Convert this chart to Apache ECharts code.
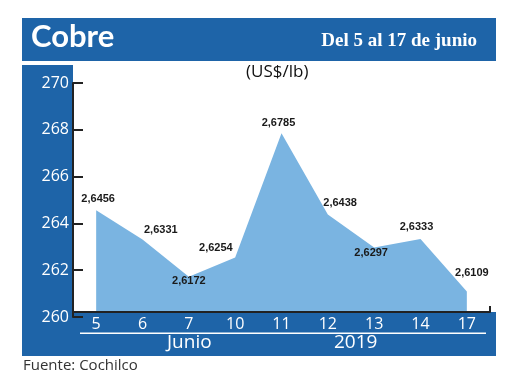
<!DOCTYPE html>
<html>
<head>
<meta charset="utf-8">
<script src="https://cdn.jsdelivr.net/npm/echarts@6/dist/echarts.min.js"></script>
<style>html,body{margin:0;padding:0;background:#fff}#c{width:520px;height:390px}</style>
</head>
<body>
<div id="c"></div>
<script>
var categories = ['5', '6', '7', '10', '11', '12', '13', '14', '17'];
var values = [264.56, 263.31, 261.72, 262.54, 267.85, 264.38, 262.97, 263.33, 261.09];
var valueLabels = ['2,6456', '2,6331', '2,6172', '2,6254', '2,6785', '2,6438', '2,6297', '2,6333', '2,6109'];
var yTicks = [260, 262, 264, 266, 268, 270];

var labelPlacement = [
  {position: 'top', offset: [2, 0]},
  {position: 'right', offset: [-4, -10]},
  {position: 'bottom', offset: [0, -7]},
  {position: 'left', offset: [3, -10]},
  {position: 'top', offset: [-3, 1]},
  {position: 'right', offset: [-10, -12]},
  {position: 'bottom', offset: [-3, -6]},
  {position: 'top', offset: [-4, -1]},
  {position: 'top', offset: [5, -8]}
];

var BLUE = '#1e64a8';
var AREA = '#7ab4e1';

var chart = echarts.init(document.getElementById('c'));
var data = values.map(function (v, i) {
  return {
    value: v,
    label: {
      show: true,
      position: labelPlacement[i].position,
      offset: labelPlacement[i].offset,
      formatter: valueLabels[i]
    }
  };
});

chart.setOption({
  animation: false,
  backgroundColor: '#ffffff',
  grid: {left: 73, right: 30, top: 83, bottom: 73, containLabel: false},
  graphic: [
    {type: 'rect', z: 5, shape: {x: 22, y: 18, width: 474, height: 43}, style: {fill: BLUE}},
    {type: 'rect', z: 5, shape: {x: 22, y: 65, width: 51, height: 291}, style: {fill: BLUE}},
    {type: 'rect', z: 5, shape: {x: 22, y: 312, width: 474, height: 44}, style: {fill: BLUE}},
    {type: 'rect', z: 6, shape: {x: 80, y: 332.5, width: 406, height: 1.5}, style: {fill: '#ffffff'}},
    {type: 'text', z: 6, left: 31, top: 21, style: {text: 'Cobre', fill: '#ffffff', font: 'bold 31px Lato, "Noto Sans", sans-serif'}},
    {type: 'text', z: 6, right: 43, top: 32, style: {text: 'Del 5 al 17 de junio', fill: '#ffffff', font: 'bold 19px "Liberation Serif", serif'}},
    {type: 'text', z: 6, left: 246, top: 64, style: {text: '(US$/lb)', fill: '#111111', font: '17px "Open Sans", sans-serif'}},
    {type: 'text', z: 6, left: 167, top: 333, style: {text: 'Junio', fill: '#ffffff', font: '19px "Open Sans", sans-serif'}},
    {type: 'text', z: 6, left: 334, top: 333, style: {text: '2019', fill: '#ffffff', font: '19px "Open Sans", sans-serif'}},
    {type: 'text', z: 6, left: 23, top: 358, style: {text: 'Fuente: Cochilco', fill: '#333333', font: '15px "Open Sans", sans-serif'}}
  ],
  xAxis: {
    type: 'category',
    data: categories,
    boundaryGap: true,
    offset: -5,
    z: 10,
    axisLine: {show: true, lineStyle: {color: '#222222', width: 2}},
    axisTick: {show: true, inside: true, length: 6, lineStyle: {color: '#222222', width: 2},
      interval: function (i) { return i === categories.length - 1; }},
    axisLabel: {color: '#ffffff', fontSize: 16, fontFamily: '"Open Sans", sans-serif', margin: 4},
    splitLine: {show: false}
  },
  yAxis: {
    type: 'value',
    min: yTicks[0],
    max: yTicks[yTicks.length - 1],
    interval: 2,
    z: 10,
    axisLine: {show: true, lineStyle: {color: '#222222', width: 2}},
    axisTick: {show: true, inside: true, length: 10, lineStyle: {color: '#222222', width: 2}},
    axisLabel: {color: '#ffffff', fontSize: 16, fontFamily: '"Open Sans", sans-serif', margin: 4},
    splitLine: {show: false}
  },
  series: [{
    type: 'line',
    data: data,
    symbol: 'circle',
    symbolSize: 1,
    showSymbol: true,
    itemStyle: {color: 'rgba(0,0,0,0)'},
    lineStyle: {width: 0, color: AREA},
    areaStyle: {color: AREA, opacity: 1},
    label: {color: '#1a1a1a', fontSize: 11, fontWeight: 'bold', fontFamily: '"Liberation Sans", Arial, sans-serif'},
    z: 2
  }]
});
</script>
</body>
</html>
